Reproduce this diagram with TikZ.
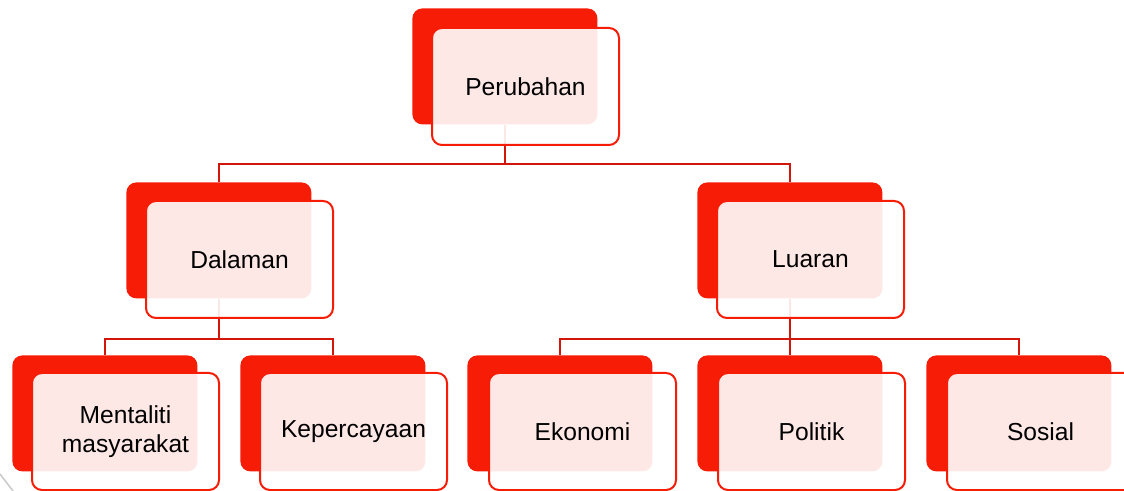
\documentclass[tikz,border=0pt]{standalone}
\usepackage{fontspec}
\setmainfont{Liberation Sans}
\usepackage{xcolor}
\usepackage{tikz}
\usetikzlibrary{positioning}
\definecolor{merah}{RGB}{246, 28, 6}
\definecolor{garismerah}{RGB}{210, 22, 12}

\tikzset{
  belakang/.style={fill=merah, rounded corners=5pt, minimum width=92.5pt, minimum height=58pt, inner sep=0pt, anchor=north west},
  depan/.style={draw=merah, line width=1pt, fill=white, fill opacity=0.9, text opacity=1, rounded corners=5pt, minimum width=93.5pt, minimum height=58.5pt, inner sep=0pt, align=center, anchor=north west, font=\fontsize{12.3}{14.5}\selectfont},
  garis/.style={draw=garismerah, line width=1.1pt}
}

\begin{document}
\begin{tikzpicture}[x=0.5pt, y=-0.5pt]
    % Frame of the slide
    \clip (0,0) rectangle (1124,491);
    \fill[white] (0,0) rectangle (1124,491);
    \draw[gray!40, line width=0.8pt] (0,474) -- (13,491);

    % Back boxes
    \node[belakang] (perubahan-b) at (412,8) {};
    \node[belakang] (dalaman-b) at (126,182) {};
    \node[belakang] (luaran-b) at (697,182) {};
    \node[belakang] (mentaliti-b) at (12,355) {};
    \node[belakang] (kepercayaan-b) at (240,355) {};
    \node[belakang] (ekonomi-b) at (467,355) {};
    \node[belakang] (politik-b) at (697,355) {};
    \node[belakang] (sosial-b) at (926,355) {};

    % Connectors
    \draw[garis] (perubahan-b.south) -- ++(0,39) -| (dalaman-b.north);
    \draw[garis] (perubahan-b.south) -- ++(0,39) -| (luaran-b.north);
    \draw[garis] (dalaman-b.south) -- ++(0,40) -| (mentaliti-b.north);
    \draw[garis] (dalaman-b.south) -- ++(0,40) -| (kepercayaan-b.north);
    \draw[garis] (luaran-b.south) -- ++(0,40) -| (ekonomi-b.north);
    \draw[garis] (luaran-b.south) -- (politik-b.north);
    \draw[garis] (luaran-b.south) -- ++(0,40) -| (sosial-b.north);

    % Front boxes
    \node[depan] (perubahan) at (431,27) {Perubahan};
    \node[depan] (dalaman) at (145,200) {Dalaman};
    \node[depan] (luaran) at (716,200) {Luaran};
    \node[depan] (mentaliti) at (31,372) {Mentaliti\\masyarakat};
    \node[depan] (kepercayaan) at (259,372) {Kepercayaan};
    \node[depan] (ekonomi) at (488,372) {Ekonomi};
    \node[depan] (politik) at (717,372) {Politik};
    \node[depan] (sosial) at (946,372) {Sosial};
\end{tikzpicture}
\end{document}
